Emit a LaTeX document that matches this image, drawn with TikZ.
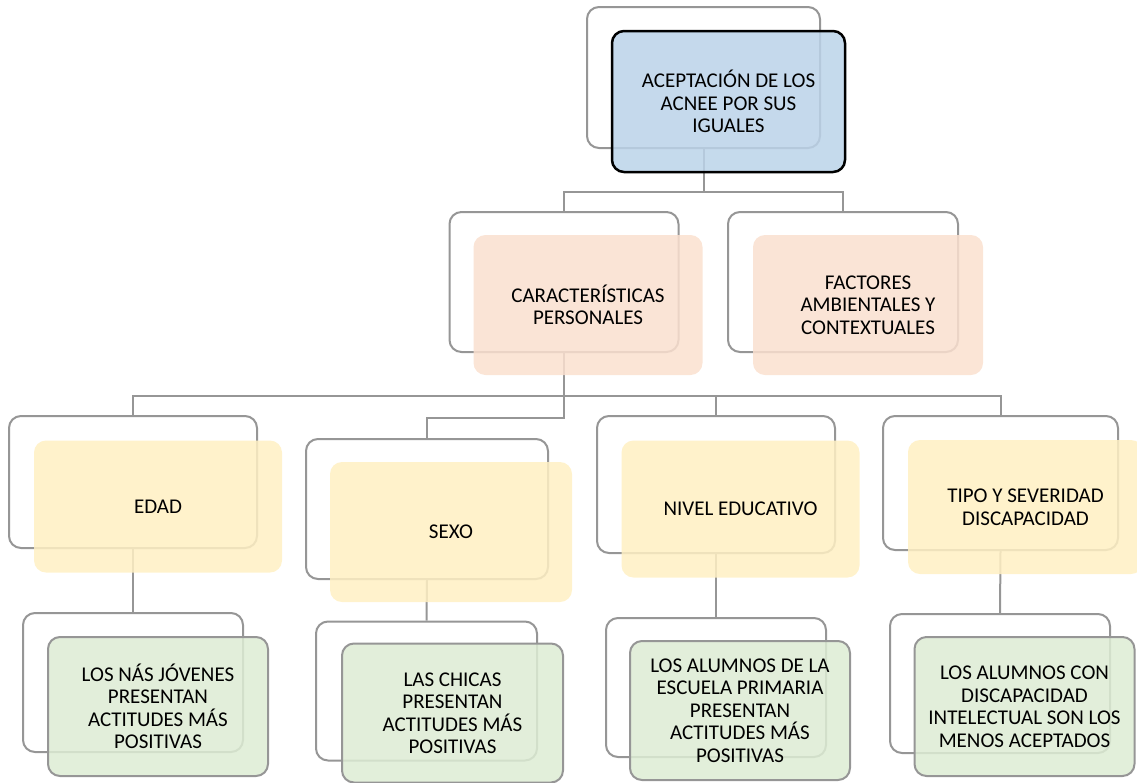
\documentclass[tikz,border=0pt]{standalone}
\usepackage{fontspec}
\setmainfont{Carlito}
\definecolor{lgray}{RGB}{150,150,150}
\definecolor{cblue}{RGB}{187,211,233}
\definecolor{cpeach}{RGB}{250,224,207}
\definecolor{cyellow}{RGB}{255,240,195}
\definecolor{cgreen}{RGB}{221,236,212}
\tikzset{
  back/.style={draw=lgray, line width=2pt, rounded corners=12pt, fill=white, inner sep=0pt},
  front/.style={rounded corners=12pt, fill opacity=0.85, text opacity=1, inner sep=0pt,
    align=center, font=\fontsize{21}{22.5}\selectfont},
  link/.style={draw=lgray, line width=2pt},
}
\begin{document}
\begin{tikzpicture}[x=1pt,y=-1pt]
\useasboundingbox (0,0) rectangle (1137,782);
% back boxes
\node[back, minimum width=233pt, minimum height=141pt] (topb) at (703.5,77.5) {};
\node[back, minimum width=229pt, minimum height=140pt] (l2ab) at (564,282) {};
\node[back, minimum width=230pt, minimum height=140pt] (l2bb) at (843,282) {};
\node[back, minimum width=248pt, minimum height=132pt] (l3ab) at (133,482) {};
\node[back, minimum width=242pt, minimum height=140pt] (l3bb) at (427,509) {};
\node[back, minimum width=238pt, minimum height=137pt] (l3cb) at (716,484.5) {};
\node[back, minimum width=235pt, minimum height=134pt] (l3db) at (1000.5,483) {};
\node[back, minimum width=220pt, minimum height=139pt] (l4ab) at (133,682.5) {};
\node[back, minimum width=221pt, minimum height=139pt] (l4bb) at (426.5,691) {};
\node[back, minimum width=220pt, minimum height=139pt] (l4cb) at (716,687.5) {};
\node[back, minimum width=220pt, minimum height=139pt] (l4db) at (1000,683.5) {};
% rails
\coordinate (r1) at (0,191.5);
\coordinate (r2) at (0,396);
\coordinate (r3) at (0,418);
% connectors
\draw[link] (topb.south) |- (l2ab.north |- r1) -- (l2ab.north);
\draw[link] (topb.south) |- (l2bb.north |- r1) -- (l2bb.north);
\draw[link] (l3ab.north) |- (l3db.north |- r2) -- (l3db.north);
\draw[link] (l3cb.north) -- (l3cb.north |- r2);
\draw[link] (l2ab.south) |- (l3bb.north |- r3) -- (l3bb.north);
\draw[link] (l3ab.south) -- (l4ab.north);
\draw[link] (l3bb.south) -- (l4bb.north);
\draw[link] (l3cb.south) -- (l4cb.north);
\draw[link] (l3db.south) -- (l4db.north);
% front boxes
\node[front, fill=cblue, draw=black, draw opacity=1, line width=2.5pt, minimum width=233pt, minimum height=141pt] (top) at (728.5,101.5) {ACEPTACIÓN DE LOS\\ACNEE POR SUS\\IGUALES};
\node[front, fill=cpeach, minimum width=229pt, minimum height=140pt] (l2a) at (588,305) {CARACTERÍSTICAS\\PERSONALES};
\node[front, fill=cpeach, minimum width=230pt, minimum height=140pt] (l2b) at (868,305) {FACTORES\\AMBIENTALES Y\\CONTEXTUALES};
\node[front, fill=cyellow, minimum width=248pt, minimum height=132pt] (l3a) at (158,506.5) {EDAD};
\node[front, fill=cyellow, minimum width=242pt, minimum height=140pt] (l3b) at (451,532) {SEXO};
\node[front, fill=cyellow, minimum width=238pt, minimum height=137pt] (l3c) at (740.5,509) {NIVEL EDUCATIVO};
\node[front, fill=cyellow, minimum width=235pt, minimum height=134pt] (l3d) at (1025.5,507) {TIPO Y SEVERIDAD\\DISCAPACIDAD};
\node[front, fill=cgreen, draw=lgray, draw opacity=1, line width=2pt, minimum width=220pt, minimum height=139pt] (l4a) at (158,706.5) {LOS NÁS JÓVENES\\PRESENTAN\\ACTITUDES MÁS\\POSITIVAS};
\node[front, fill=cgreen, draw=lgray, draw opacity=1, line width=2pt, minimum width=221pt, minimum height=139pt] (l4b) at (452.5,713) {LAS CHICAS\\PRESENTAN\\ACTITUDES MÁS\\POSITIVAS};
\node[front, fill=cgreen, draw=lgray, draw opacity=1, line width=2pt, minimum width=220pt, minimum height=139pt] (l4c) at (740,710.5) {LOS ALUMNOS DE LA\\ESCUELA PRIMARIA\\PRESENTAN\\ACTITUDES MÁS\\POSITIVAS};
\node[front, fill=cgreen, draw=lgray, draw opacity=1, line width=2pt, minimum width=220pt, minimum height=139pt] (l4d) at (1024.5,706.5) {LOS ALUMNOS CON\\DISCAPACIDAD\\INTELECTUAL SON LOS\\MENOS ACEPTADOS};
\end{tikzpicture}
\end{document}
